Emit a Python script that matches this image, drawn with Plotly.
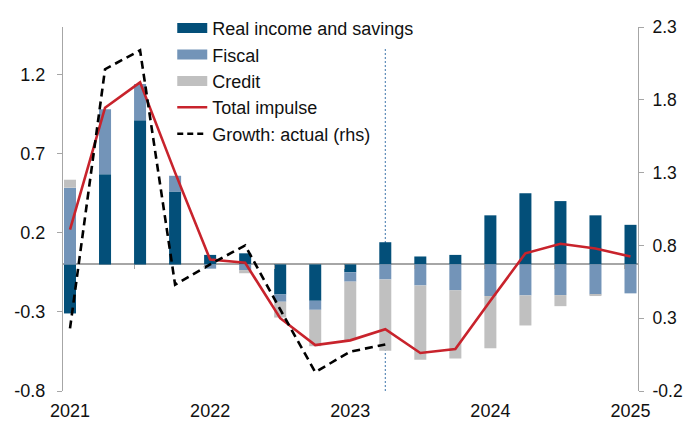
import plotly.graph_objects as go

# Quarterly periods, 2021 Q1 to 2025 Q1
quarters = ["2021Q1", "2021Q2", "2021Q3", "2021Q4",
            "2022Q1", "2022Q2", "2022Q3", "2022Q4",
            "2023Q1", "2023Q2", "2023Q3", "2023Q4",
            "2024Q1", "2024Q2", "2024Q3", "2024Q4",
            "2025Q1"]
year_ticks = ["2021", "2022", "2023", "2024", "2025"]

# Contributions to the growth impulse (lhs, pp)
real_income = [-0.31, 0.57, 0.91, 0.46, 0.06, 0.07, -0.19, -0.23, -0.05,
               0.14, 0.05, 0.06, 0.31, 0.45, 0.40, 0.31, 0.25]
fiscal = [0.485, 0.41, 0.23, 0.10, -0.027, -0.036, -0.046, -0.057, -0.059,
          -0.095, -0.133, -0.164, -0.20, -0.196, -0.194, -0.19, -0.183]
credit = [0.05, 0.0, 0.0, 0.0, 0.0, -0.02, -0.10, -0.23, -0.37,
          -0.45, -0.47, -0.43, -0.33, -0.19, -0.07, -0.01, 0.0]
total_impulse = [0.22, 0.99, 1.15, 0.58, 0.03, 0.01, -0.34, -0.51, -0.48,
                 -0.41, -0.56, -0.535, -0.23, 0.07, 0.13, 0.10, 0.05]
# Actual growth (rhs), available through 2023 Q2
growth_actual = [0.23, 2.01, 2.14, 0.53, 0.67, 0.80, 0.36, -0.07, 0.07, 0.12]

left_ticks = [-0.8, -0.3, 0.2, 0.7, 1.2]
right_ticks = [-0.2, 0.3, 0.8, 1.3, 1.8, 2.3]

C_REAL = "#034f79"
C_FISCAL = "#7394b8"
C_CREDIT = "#c0c0c0"
C_TOTAL = "#c8232c"
C_AXIS = "#a6a6a6"
FONT = "Liberation Sans, Arial, sans-serif"
FS = 18

x = list(range(len(quarters)))
bar_w = 0.343

fig = go.Figure()

for name, vals, col in [("Real income and savings", real_income, C_REAL),
                        ("Fiscal", fiscal, C_FISCAL),
                        ("Credit", credit, C_CREDIT)]:
    fig.add_trace(go.Bar(x=x, y=vals, name=name, marker_color=col,
                         marker_line_width=0, width=bar_w, showlegend=False,
                         hovertext=quarters))

fig.add_trace(go.Scatter(x=x, y=total_impulse, mode="lines", name="Total impulse",
                         line=dict(color=C_TOTAL, width=2.6), showlegend=False))
fig.add_trace(go.Scatter(x=x[:len(growth_actual)], y=growth_actual, mode="lines",
                         name="Growth: actual (rhs)", yaxis="y2",
                         line=dict(color="black", width=2.6, dash="8px,5px"),
                         showlegend=False))

# Legend keys
for name, col, w, dash in [("Real income and savings", C_REAL, 10, "solid"),
                           ("Fiscal", C_FISCAL, 10, "solid"),
                           ("Credit", C_CREDIT, 10, "solid"),
                           ("Total impulse", C_TOTAL, 2.6, "solid"),
                           ("Growth: actual (rhs)", "black", 2.6, "6px,4px")]:
    fig.add_trace(go.Scatter(x=[None], y=[None], mode="lines", name=name,
                             line=dict(color=col, width=w, dash=dash)))

# Minor ticks along the zero line
fig.add_trace(go.Scatter(x=[None], y=[None], xaxis="x2", showlegend=False))

# Forecast divider
fig.add_shape(type="line", xref="x", yref="y", x0=9, x1=9, y0=-0.8, y1=1.37,
              line=dict(color="#3d74aa", width=1, dash="2px,2px"), layer="below")

xr = [-0.2, 16.214]
fig.update_layout(
    width=686, height=421,
    margin=dict(l=63, r=48, t=27, b=30, autoexpand=False),
    paper_bgcolor="white", plot_bgcolor="white",
    barmode="relative",
    font=dict(family=FONT, size=FS, color="#111111"),
    legend=dict(x=0.19, y=1.047, xanchor="left", yanchor="top",
                bgcolor="rgba(0,0,0,0)", borderwidth=0,
                font=dict(size=FS), traceorder="normal"),
    xaxis=dict(range=xr, tickvals=[0, 4, 8, 12, 16], ticktext=year_ticks,
               showgrid=False, zeroline=False, showline=False, ticks="",
               ticklabelstandoff=7, automargin=False),
    xaxis2=dict(range=xr, overlaying="x", anchor="free", position=0.8 / 2.3,
                tickvals=[1.83 + 2 * k for k in range(8)], ticks="outside",
                ticklen=4, tickcolor=C_AXIS, showticklabels=False,
                showgrid=False, zeroline=False, showline=False, automargin=False),
    yaxis=dict(range=[-0.8, 1.5], tickvals=left_ticks,
               ticktext=[f"{v:.1f}" for v in left_ticks],
               showgrid=False, zeroline=True, zerolinecolor=C_AXIS, zerolinewidth=1.5,
               showline=True, linecolor=C_AXIS, linewidth=1,
               ticks="outside", ticklen=5, tickcolor=C_AXIS, ticklabelstandoff=8,
               automargin=False),
    yaxis2=dict(range=[-0.2, 2.3], tickvals=right_ticks,
                ticktext=[f"{v:.1f}" for v in right_ticks],
                overlaying="y", side="right", showgrid=False, zeroline=False,
                showline=True, linecolor=C_AXIS, linewidth=1,
                ticks="outside", ticklen=5, tickcolor=C_AXIS, ticklabelstandoff=5,
                tickfont=dict(size=17.5), automargin=False),
)

fig.write_html("out.html")
